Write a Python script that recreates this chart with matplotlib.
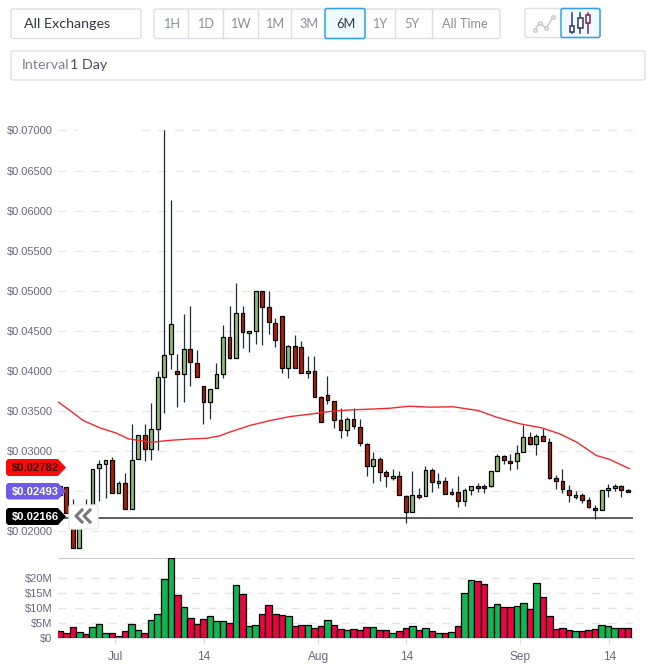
import matplotlib
matplotlib.use('Agg')
import matplotlib.pyplot as plt
from matplotlib.patches import Polygon, Rectangle, FancyBboxPatch

W, H = 651, 667
plt.rcParams['font.family'] = ['Liberation Sans', 'DejaVu Sans']

# daily candles
c_top = [.0256, .0255, .0225, .0215, .0225, .02775, .02837, .02887, .02887, .026, .026, .02887, .032, .032, .03275, .03925,
         .042, .0458, .04, .04275, .04275, .041, .03812, .03775, .03962, .04425, .04425, .04725, .04725, .045, .05, .05,
         .048, .046, .04688, .04312, .04312, .043, .04, .04, .03675, .037, .03625, .03387, .034, .034, .033, .03087,
         .029, .029, .02737, .02687, .02687, .02437, .0245, .0245, .02762, .02762, .02625, .02625, .02487, .02487, .02512, .02562,
         .02562, .02562, .0275, .02937, .02937, .02875, .02975, .03175, .03175, .03187, .03187, .03112, .02662, .02625, .02512, .0245,
         .0245, .02387, .02287, .02512, .02537, .02562, .02562, .02512]
c_bot = [.0245, .02225, .01787, .01787, .0215, .0225, .02787, .02833, .02475, .02475, .02275, .02275, .029, .03025, .03025, .03275,
         .03925, .04212, .03962, .03962, .04108, .03925, .03608, .03608, .03787, .03962, .04162, .04162, .04487, .04475, .045, .048,
         .04612, .04387, .04037, .04037, .04037, .03975, .03975, .03675, .03362, .03637, .03387, .03262, .03262, .03312, .031, .02812,
         .02812, .02737, .02687, .02662, .0245, .02237, .02237, .02425, .02437, .02612, .026, .02462, .02462, .02375, .02375, .02512,
         .02537, .02537, .02562, .0275, .02887, .0285, .02875, .02987, .03087, .03087, .03125, .02662, .02625, .02525, .0245, .02425,
         .02387, .023, .02262, .02262, .02512, .02537, .02512, .02487]
c_high = [.0256, .0255, .024, .0215, .024, .02775, .02888, .0289, .02925, .02629, .02725, .03338, .032, .03338, .03604, .04,
          .07, .0613, .04204, .0471, .0481, .04254, .03812, .03775, .041, .04567, .04804, .05092, .04804, .045, .05, .05,
          .04992, .04654, .04688, .0432, .04442, .04367, .04179, .04179, .03685, .03937, .03625, .03537, .03425, .03537, .034, .031,
          .02987, .02925, .02762, .02779, .0275, .0245, .0275, .02537, .02808, .02787, .02725, .02675, .02537, .02687, .02537, .02562,
          .026, .02587, .0275, .02962, .0295, .02962, .03075, .03325, .03237, .03212, .03287, .03162, .027, .02775, .02575, .025,
          .02475, .02425, .02325, .02512, .02587, .02587, .02575, .02525]
c_low = [.0245, .02225, .01787, .01787, .0215, .0225, .02379, .02417, .02475, .02475, .02275, .02275, .029, .02871, .02892, .03008,
         .03471, .04017, .03554, .03608, .03804, .03925, .03338, .034, .03787, .03908, .04146, .04162, .04279, .04229, .04329, .04317,
         .04462, .04292, .03967, .03904, .04037, .03975, .03904, .03675, .03362, .03583, .03292, .03162, .03192, .03275, .03067, .02683,
         .02596, .02629, .02546, .02637, .0245, .021, .02237, .024, .02437, .02483, .02533, .02462, .02446, .02296, .02308, .02446,
         .02483, .02475, .02546, .0275, .02833, .02758, .02771, .02987, .03075, .02946, .03125, .0265, .02521, .02471, .02358, .02396,
         .02346, .02283, .02146, .02262, .02421, .02496, .02421, .02487]
green_days = [3, 4, 5, 6, 7, 9, 11, 12, 14, 15, 16, 17, 19, 23, 24, 25, 27, 29, 30, 35, 38, 44, 48, 51, 54, 56,
              58, 60, 62, 63, 66, 67, 70, 71, 73, 79, 83, 84, 85]

ma_idx = [-0.2, 1.56, 3.6, 6.16, 8.7, 10.5, 12.3, 14.1, 16.4, 19.4, 22.5, 24.5, 26.1, 29.1, 32.2, 35.3, 38.3, 41.4, 44.4,
          47.5, 50.6, 53.6, 56.7, 60.3, 64.1, 66.9, 70.5, 73.8, 76.6, 79.2, 82.2, 84.3, 87.2]
ma_val = [.03608, .03504, .03379, .03287, .03221, .0315, .03129, .03108, .03129, .03146, .03158, .03188, .03237, .03317,
          .03379, .03429, .03458, .03492, .03512, .03521, .03533, .03558, .03546, .0355, .03504, .03421, .03338, .03288,
          .03212, .03108, .02942, .02892, .02779]

volume = [2.5, 1.6, 3.6, 2.2, 1.5, 3.8, 4.8, 1.9, 1.9, 0.9, 2.3, 4.8, 2.6, 1.9, 5.9, 7.9, 19.4, 26.4, 14.2, 10.4, 6.6,
          4.6, 6.3, 7.3, 5.6, 5.6, 4.9, 17.5, 14.5, 4.0, 4.3, 7.9, 10.9, 7.9, 7.6, 7.3, 4.0, 4.3, 4.3, 3.3, 4.0, 5.9,
          4.3, 3.0, 2.6, 3.0, 2.6, 3.6, 3.6, 2.6, 2.6, 1.6, 2.3, 3.3, 4.0, 2.6, 3.3, 2.3, 1.6, 1.6, 2.0, 4.0, 14.8,
          19.1, 18.8, 17.8, 10.2, 11.2, 10.2, 10.2, 10.5, 11.5, 9.6, 18.1, 13.5, 7.3, 3.0, 3.3, 2.6, 2.3, 2.3, 2.6,
          3.0, 4.3, 4.0, 3.3, 3.3, 3.3]
vol_color = list('rrrgrgggrgrggrggggrgrrrgggrgrggrrrrgrrgrrg'
                 'rrgrrrgrrgrrgrgrgrgrggrrggrrggrgrrrrrgrrrgggrr')

# $0.02500 sits behind the purple tag in the reference, so it only gets a gridline
price_ticks = [.02, .025, .03, .035, .04, .045, .05, .055, .06, .065, .07]
price_labels = ['$0.02000', '', '$0.03000', '$0.03500', '$0.04000', '$0.04500', '$0.05000',
                '$0.05500', '$0.06000', '$0.06500', '$0.07000']
vol_ticks = [0, 5, 10, 15, 20]
date_pos = [8.5, 22.1, 39.6, 53.1, 70.5, 84.2]
date_labels = ['Jul', '14', 'Aug', '14', 'Sep', '14']

ranges = ['1H', '1D', '1W', '1M', '3M', '6M', '1Y', '5Y', 'All Time']
last_price = 0.02166


def px_axes(l, t, r, b):
    return fig.add_axes([l / W, 1 - b / H, (r - l) / W, (b - t) / H])


fig = plt.figure(figsize=(W / 100, H / 100), dpi=100)
ax = px_axes(58, 120, 633, 552)
vx = px_axes(58, 558.3, 633, 638.3)

idx = list(range(88))
up_col, dn_col = '#8fbb6e', '#b11f02'
ax.vlines(idx, c_low, c_high, color='#1c2f3a', lw=0.9, zorder=3)
ax.bar(idx, [t - b for t, b in zip(c_top, c_bot)], bottom=c_bot, width=0.58,
       color=[up_col if i in green_days else dn_col for i in idx], edgecolor='black', lw=0.9, zorder=4)
ax.plot(ma_idx, ma_val, color='#f5282f', lw=1.0, zorder=5)
ax.axhline(last_price, color='#333333', lw=1.1, zorder=6)
ax.set_xlim(-0.276, 87.8)
ax.set_ylim(.02 + (531 - 552) / 8010, .02 + (531 - 120) / 8010)
ax.set_yticks(price_ticks)
ax.set_yticklabels(price_labels, color='#68687e', fontsize=8)
ax.set_xticks([])
ax.tick_params(axis='y', length=0, pad=4)
ax.grid(axis='y', color='#e6e6ee', lw=1, dashes=(6, 6))
ax.set_axisbelow(True)
for s in ax.spines.values():
    s.set_visible(False)

vx.bar(idx, volume, width=1.0, color=['#12b551' if c == 'g' else '#e8063f' for c in vol_color],
       edgecolor='black', lw=0.9, zorder=3)
vx.set_xlim(-0.276, 87.8)
vx.set_ylim(0, 26.37)
vx.set_yticks(vol_ticks)
vx.set_yticklabels(['$%dM' % v if v else '$0' for v in vol_ticks], color='#68687e', fontsize=8)
vx.set_xticks(date_pos)
vx.set_xticklabels(date_labels, color='#68687e', fontsize=8.6)
vx.tick_params(axis='y', length=0, pad=4)
vx.tick_params(axis='x', length=4, color='#dde0e6', width=1, pad=5)
vx.grid(axis='y', color='#e4e4e4', lw=1, dashes=(6, 6))
vx.set_axisbelow(True)
for k in ('left', 'right'):
    vx.spines[k].set_visible(False)
vx.spines['top'].set_color('#cccccc')
vx.spines['bottom'].set_color('#dde0e6')

# page furniture above the chart, in pixel coordinates
ui = fig.add_axes([0, 0, 1, 1], zorder=10)
ui.set_xlim(0, W)
ui.set_ylim(H, 0)
ui.axis('off')
ui.patch.set_alpha(0)


def box(x0, y0, x1, y1, fc='white', ec='#dcdfe3', lw=1.0, rad=2, z=2):
    ui.add_patch(FancyBboxPatch((x0 + rad, y0 + rad), x1 - x0 - 2 * rad, y1 - y0 - 2 * rad,
                                boxstyle='round,pad=%g,rounding_size=%g' % (rad, rad),
                                fc=fc, ec=ec, lw=lw, zorder=z))


ui_font = ['Lato', 'DejaVu Sans']
box(11, 9, 141, 38.5)
ui.text(24, 24, 'All Exchanges', family=ui_font, fontsize=10.3, color='#33374a', va='center')
ui.add_patch(Polygon([[125, 20.5], [133, 20.5], [129, 27]], fc='#111111', ec='none'))

box(154, 9, 500, 38.5)
seps = [188.3, 222.5, 257.5, 291, 395, 432]
ui.vlines(seps, 9, 38.5, color='#dcdfe3', lw=1)
centers = [171.7, 206, 240, 275, 309, 346, 380, 412, 464.6]
box(325, 8.5, 365, 38.5, fc='#eefaff', ec='#2f9fe8', lw=1.1, z=3)
for c, r in zip(centers, ranges):
    ui.text(c, 24, r, family=ui_font, fontsize=9.2, ha='center', va='center', zorder=4,
            color='#33374a' if r == '6M' else '#8d8f9c')

box(525, 8.5, 600, 37.5)
box(561, 8.5, 600, 37.5, fc='#eefaff', ec='#2f9fe8', lw=1.1, z=3)
ui.plot([534.6, 540, 546, 553], [30, 23, 28.3, 17.3], color='#c4c6cc', lw=1, marker='o', ms=2.4, mfc='white', mec='#c4c6cc')
for x, t, b, c in [(571.7, 26, 32, '#2d3a5e'), (580.4, 18, 28, '#2d3a5e'), (588, 15, 23, '#7a1f5c')]:
    ui.plot([x, x], [13, 33], color=c, lw=1.1, zorder=4)
    ui.add_patch(Rectangle((x - 2.2, t), 4.4, b - t, fc='white', ec=c, lw=1.1, zorder=5))

box(11, 51, 645, 80)
ui.text(22, 65, 'Interval', family=ui_font, fontsize=10.3, color='#80828f', va='center')
ui.text(70, 65, '1 Day', family=ui_font, fontsize=10.3, color='#4a4d5e', va='center')
ui.add_patch(Polygon([[630, 62.5], [638, 62.5], [634, 69]], fc='#111111', ec='none'))

# blank patch in the top gridline
ui.add_patch(Rectangle((78, 128.5), 59, 4, fc='white', ec='none', zorder=1))

# price tags on the left edge
tag_font = dict(ha='center', va='center', fontsize=8.1, fontweight='bold', zorder=8)
for y0, y1, col, txt, tc in [(459, 476, '#fb0a0a', '$0.02782', '#3a0505'),
                             (483, 499.5, '#6e5ae6', '$0.02493', 'white'),
                             (508, 525, '#000000', '$0.02166', 'white')]:
    ym = (y0 + y1) / 2
    ui.add_patch(Polygon([[8, y0], [58, y0], [66, ym], [58, y1], [8, y1], [6, y1 - 2], [6, y0 + 2]],
                         fc=col, ec='none', zorder=7))
    ui.text(35, ym + 0.3, txt, color=tc, **tag_font)

box(69, 505, 98, 529, ec='#ececec', z=9)
for dx in (0, 8):
    ui.plot([82 + dx, 76 + dx, 82 + dx], [510, 516, 522], color='#777777', lw=2.2, zorder=10)

fig.savefig('out.png', dpi=100)
